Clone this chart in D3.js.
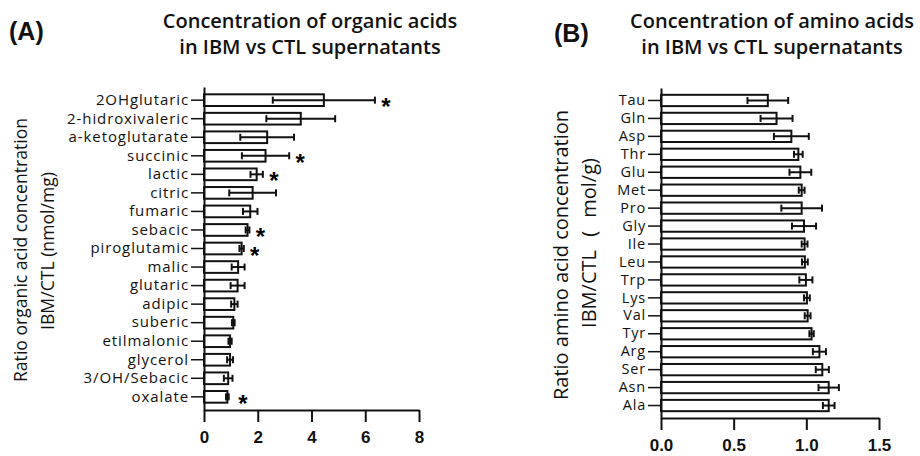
<!DOCTYPE html>
<html>
<head>
<meta charset="utf-8">
<script src="https://cdn.jsdelivr.net/npm/d3@7"></script>
<style>
  body { margin: 0; background: #fff; }
  svg { display: block; }
  .cat text { font-family: "Open Sans", sans-serif; fill: #111; }
  .num text { font-family: "Liberation Sans", Arial, sans-serif; font-size: 17px; font-weight: bold; fill: #111; }
</style>
</head>
<body>
<div id="chart"></div>
<script>
var organicNames = ["2OHglutaric", "2-hidroxivaleric", "a-ketoglutarate", "succinic", "lactic", "citric",
  "fumaric", "sebacic", "piroglutamic", "malic", "glutaric", "adipic", "suberic", "etilmalonic",
  "glycerol", "3/OH/Sebacic", "oxalate"]
var organicMeans = [4.46, 3.6, 2.35, 2.29, 1.96, 1.81, 1.72, 1.62, 1.40, 1.27, 1.25, 1.13, 1.09, 0.97, 0.97, 0.90, 0.87]
var organicSD = [1.9, 1.28, 1.0, 0.88, 0.23, 0.87, 0.27, 0.07, 0.08, 0.24, 0.26, 0.12, 0.05, 0.06, 0.11, 0.16, 0.05]
var organicStars = ["2OHglutaric", "succinic", "lactic", "sebacic", "piroglutamic", "oxalate"]
var organicTicks = [0, 2, 4, 6, 8]

var aminoNames = ["Tau", "Gln", "Asp", "Thr", "Glu", "Met", "Pro", "Gly", "Ile", "Leu", "Trp", "Lys",
  "Val", "Tyr", "Arg", "Ser", "Asn", "Ala"]
var aminoMeans = [0.735, 0.795, 0.897, 0.945, 0.959, 0.968, 0.968, 0.984, 0.988, 0.99, 0.997, 1.004,
  1.009, 1.036, 1.09, 1.11, 1.154, 1.154]
var aminoSD = [0.14, 0.11, 0.12, 0.03, 0.075, 0.02, 0.14, 0.083, 0.02, 0.02, 0.045, 0.02, 0.02, 0.015,
  0.045, 0.045, 0.07, 0.04]
var aminoTicks = [0, 0.5, 1.0, 1.5]

var width = 920, height = 456

var svg = d3.select("#chart")
  .append("svg")
  .attr("width", width)
  .attr("height", height)

function drawPanel(opt) {
  var rows = opt.names.map(function(n, i) {
    return { name: n, mean: opt.means[i], sd: opt.sd[i] }
  })

  var x = d3.scaleLinear().domain(opt.domain).range([opt.x0, opt.x1])
  var y = d3.scaleBand().domain(opt.names).range([opt.y0, opt.y1])
    .paddingInner(0.37).paddingOuter(opt.outer)

  var g = svg.append("g")

  // bars
  g.selectAll(".bar")
    .data(rows)
    .enter().append("rect")
    .attr("x", x(0))
    .attr("y", function(d) { return y(d.name) })
    .attr("width", function(d) { return x(d.mean) - x(0) })
    .attr("height", y.bandwidth())
    .attr("fill", "#fff")
    .attr("stroke", "#111")
    .attr("stroke-width", 2)

  // error bars
  var err = g.selectAll(".err")
    .data(rows)
    .enter().append("g")
    .attr("transform", function(d) { return "translate(0," + (y(d.name) + y.bandwidth() / 2) + ")" })
  err.append("line")
    .attr("x1", function(d) { return x(d.mean - d.sd) })
    .attr("x2", function(d) { return x(d.mean + d.sd) })
    .attr("stroke", "#111")
    .attr("stroke-width", 2)
  err.selectAll(".cap")
    .data(function(d) { return [d.mean - d.sd, d.mean + d.sd] })
    .enter().append("line")
    .attr("x1", function(v) { return x(v) })
    .attr("x2", function(v) { return x(v) })
    .attr("y1", -3.5)
    .attr("y2", 3.5)
    .attr("stroke", "#111")
    .attr("stroke-width", 2)

  // stars
  if (opt.stars) {
    g.selectAll(".star")
      .data(rows.filter(function(d) { return opt.stars.indexOf(d.name) >= 0 }))
      .enter().append("text")
      .attr("x", function(d) { return Math.max(x(d.mean + d.sd), x(0) + 28) + 11 })
      .attr("y", function(d) { return y(d.name) + y.bandwidth() / 2 + 15 })
      .attr("text-anchor", "middle")
      .style("font-family", "Liberation Sans, Arial, sans-serif")
      .style("font-weight", "bold")
      .style("font-size", "24px")
      .text("*")
  }

  // axes
  var ya = g.append("g")
    .attr("class", "cat")
    .attr("transform", "translate(" + x(0) + ",0)")
    .call(d3.axisLeft(y).tickSize(13).tickSizeOuter(0).tickPadding(2))
  ya.select(".domain").attr("stroke-width", 2).attr("stroke", "#111")
  ya.selectAll(".tick line").attr("stroke-width", 1.5).attr("stroke", "#111")
  ya.selectAll(".tick text")
    .style("font-size", opt.catSize)
    .style("letter-spacing", opt.catSpacing)

  var xa = g.append("g")
    .attr("class", "num")
    .attr("transform", "translate(0," + opt.y1 + ")")
    .call(d3.axisBottom(x).tickValues(opt.ticks).tickSize(12).tickSizeOuter(0).tickPadding(9)
      .tickFormat(opt.fmt))
  xa.select(".domain").attr("stroke-width", 2).attr("stroke", "#111")
  xa.selectAll(".tick line").attr("stroke-width", 2).attr("stroke", "#111")

  // y title
  opt.ytitle.forEach(function(t) {
    g.append("text")
      .attr("transform", "translate(" + t.x + "," + t.y + ") rotate(-90)")
      .attr("text-anchor", "middle")
      .attr("dominant-baseline", "central")
      .style("font-family", "Open Sans, sans-serif")
      .style("font-size", t.size)
      .style("word-spacing", t.ws || "0px")
      .style("fill", "#111")
      .text(t.text)
  })

  // title, two lines
  var title = g.append("text")
    .attr("y", 28)
    .attr("text-anchor", "middle")
    .style("font-family", "Open Sans, sans-serif")
    .style("font-weight", 600)
    .style("font-size", "20px")
    .style("fill", "#111")
  title.selectAll("tspan")
    .data(opt.title)
    .enter().append("tspan")
    .attr("x", opt.titleX)
    .attr("dy", function(d, i) { return i === 0 ? 0 : 26 })
    .text(function(d) { return d })

  g.append("text")
    .attr("x", opt.tagX)
    .attr("y", opt.tagY)
    .style("font-family", "Liberation Sans, Arial, sans-serif")
    .style("font-weight", "bold")
    .style("font-size", "25px")
    .style("fill", "#111")
    .text(opt.tag)
}

drawPanel({
  names: organicNames, means: organicMeans, sd: organicSD, stars: organicStars,
  domain: [0, 8], ticks: organicTicks, fmt: d3.format("d"),
  x0: 204, x1: 419, y0: 87, y1: 410, outer: 0.395, catSize: "15px", catSpacing: "0.9px",
  ytitle: [
    { text: "Ratio organic acid concentration", x: 20, y: 250, size: "17.6px" },
    { text: "IBM/CTL (nmol/mg)", x: 47, y: 251, size: "17.6px" }
  ],
  title: ["Concentration of organic acids", "in IBM vs CTL supernatants"], titleX: 310,
  tag: "(A)", tagX: 9, tagY: 40
})

drawPanel({
  names: aminoNames, means: aminoMeans, sd: aminoSD, stars: null,
  domain: [0, 1.5], ticks: aminoTicks, fmt: d3.format(".1f"),
  x0: 661, x1: 879, y0: 88, y1: 418, outer: 0.38, catSize: "14.5px", catSpacing: "0.8px",
  ytitle: [
    { text: "Ratio amino acid concentration", x: 560, y: 255, size: "20px" },
    { text: "IBM/CTL ( mol/g)", x: 588, y: 243, size: "20px", ws: "8px" }
  ],
  title: ["Concentration of amino acids", "in IBM vs CTL supernatants"], titleX: 772,
  tag: "(B)", tagX: 554, tagY: 42
})
</script>
</body>
</html>
